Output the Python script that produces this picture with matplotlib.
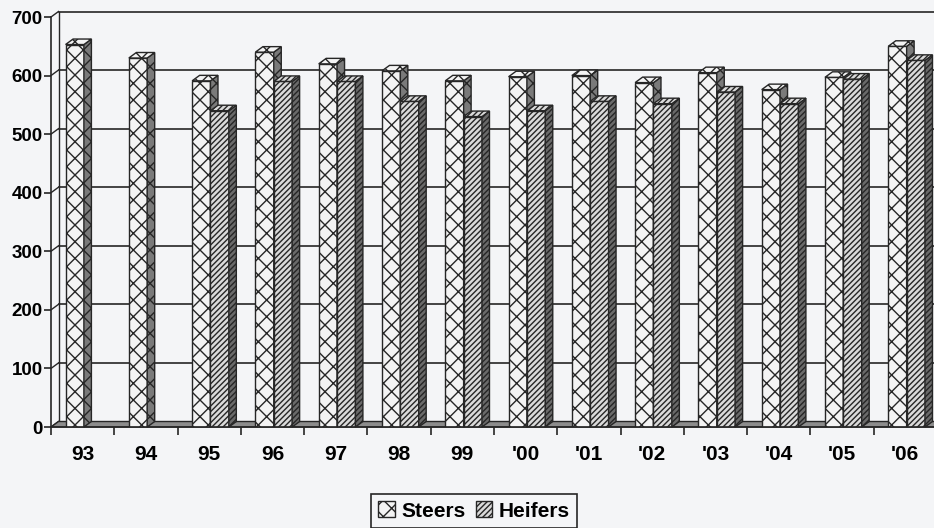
import numpy as np
import matplotlib.pyplot as plt
from matplotlib.patches import Polygon, Patch

# average weights by year
years = ['93', '94', '95', '96', '97', '98', '99', "'00", "'01", "'02", "'03", "'04", "'05", "'06"]
steers = [653, 630, 591, 640, 620, 608, 591, 598, 600, 588, 605, 576, 597, 650]
heifers = [np.nan, np.nan, 540, 590, 590, 556, 530, 540, 556, 552, 572, 552, 594, 626]

plt.rcParams['font.family'] = ['Liberation Sans', 'DejaVu Sans']
plt.rcParams['font.weight'] = 'bold'
plt.rcParams['hatch.linewidth'] = 1.0

W, H = 934, 528
bg = '#f4f5f7'
ink = '#262626'
fig = plt.figure(figsize=(W / 100, H / 100), dpi=100, facecolor=bg)

# front plane of the box: 51..937 px wide, 17..427 px high
ax = fig.add_axes([51 / W, (H - 427) / H, 886 / W, 410 / H])
n = len(years)
ax.set_xlim(0, n)
ax.set_ylim(0, 700)
ax.set_facecolor('none')

# depth of the 3-d box, pixels -> data units
px_x = 886 / n
px_y = 410 / 700
dx = 7.5 / px_x
dy = 5.5 / px_y

# back wall, gridlines and left wall
ax.add_patch(Polygon([(dx, dy), (n + 1, dy), (n + 1, 700 + dy), (dx, 700 + dy)],
                     closed=True, facecolor=bg, edgecolor='none', zorder=0, clip_on=False))
for v in range(0, 800, 100):
    ax.plot([dx, n + 1], [v + dy, v + dy], color=ink, lw=1.2, zorder=1, clip_on=False)
    ax.plot([0, dx], [v, v + dy], color=ink, lw=1.0, zorder=1, clip_on=False)
ax.plot([dx, dx], [dy, 700 + dy], color=ink, lw=1.0, zorder=1, clip_on=False)

# floor
ax.add_patch(Polygon([(0, 0), (n + 1, 0), (n + 1 + dx, dy), (dx, dy)],
                     closed=True, facecolor='#8c8c8c', edgecolor=ink, lw=1.0,
                     zorder=1.5, clip_on=False))

w = 0.29


def bar3d(x0, h, face, side, hatch):
    if np.isnan(h):
        return
    ax.bar(x0, h, width=w, align='edge', color=face, edgecolor=ink,
           hatch=hatch, lw=1.0, zorder=2)
    ax.add_patch(Polygon([(x0 + w, 0), (x0 + w + dx, dy), (x0 + w + dx, h + dy), (x0 + w, h)],
                         closed=True, facecolor=side, edgecolor=ink, hatch=hatch,
                         lw=1.0, zorder=2, clip_on=False))
    ax.add_patch(Polygon([(x0, h), (x0 + dx, h + dy), (x0 + w + dx, h + dy), (x0 + w, h)],
                         closed=True, facecolor=face, edgecolor=ink, hatch=hatch,
                         lw=1.0, zorder=2, clip_on=False))


for i in range(n):
    bar3d(i + 0.23, steers[i], '#f3f3f3', '#7a7a7a', 'xx')
    bar3d(i + 0.23 + w, heifers[i], '#dadada', '#6a6a6a', '//////')

# axes, ticks and labels
for s in ['top', 'right']:
    ax.spines[s].set_visible(False)
for s in ['left', 'bottom']:
    ax.spines[s].set_color(ink)
    ax.spines[s].set_linewidth(1.2)
    ax.spines[s].set_zorder(3)

ax.set_yticks(range(0, 800, 100))
ax.tick_params(axis='y', length=5, width=1.2, color=ink, pad=1, labelsize=13.5)
ax.set_xticks(range(n + 1))
ax.set_xticklabels([])
ax.set_xticks(np.arange(n) + 0.5, minor=True)
ax.set_xticklabels(years, minor=True)
ax.tick_params(axis='x', which='major', length=6, width=1.2, color=ink)
ax.tick_params(axis='x', which='minor', length=0, pad=13, labelsize=15)

handles = [Patch(facecolor='#f3f3f3', edgecolor=ink, hatch='xx'),
           Patch(facecolor='#dadada', edgecolor=ink, hatch='//////')]
leg = fig.legend(handles, ['Steers', 'Heifers'], loc='center',
                 bbox_to_anchor=(474 / W, 1 - 511 / H), ncol=2,
                 prop={'weight': 'bold', 'size': 15}, frameon=True, fancybox=False,
                 edgecolor=ink, facecolor=bg, framealpha=1,
                 handlelength=0.8, handleheight=0.8, handletextpad=0.3,
                 columnspacing=0.5, borderpad=0.35)
leg.get_frame().set_linewidth(1.2)

fig.savefig('out.png', dpi=100, facecolor=bg)
